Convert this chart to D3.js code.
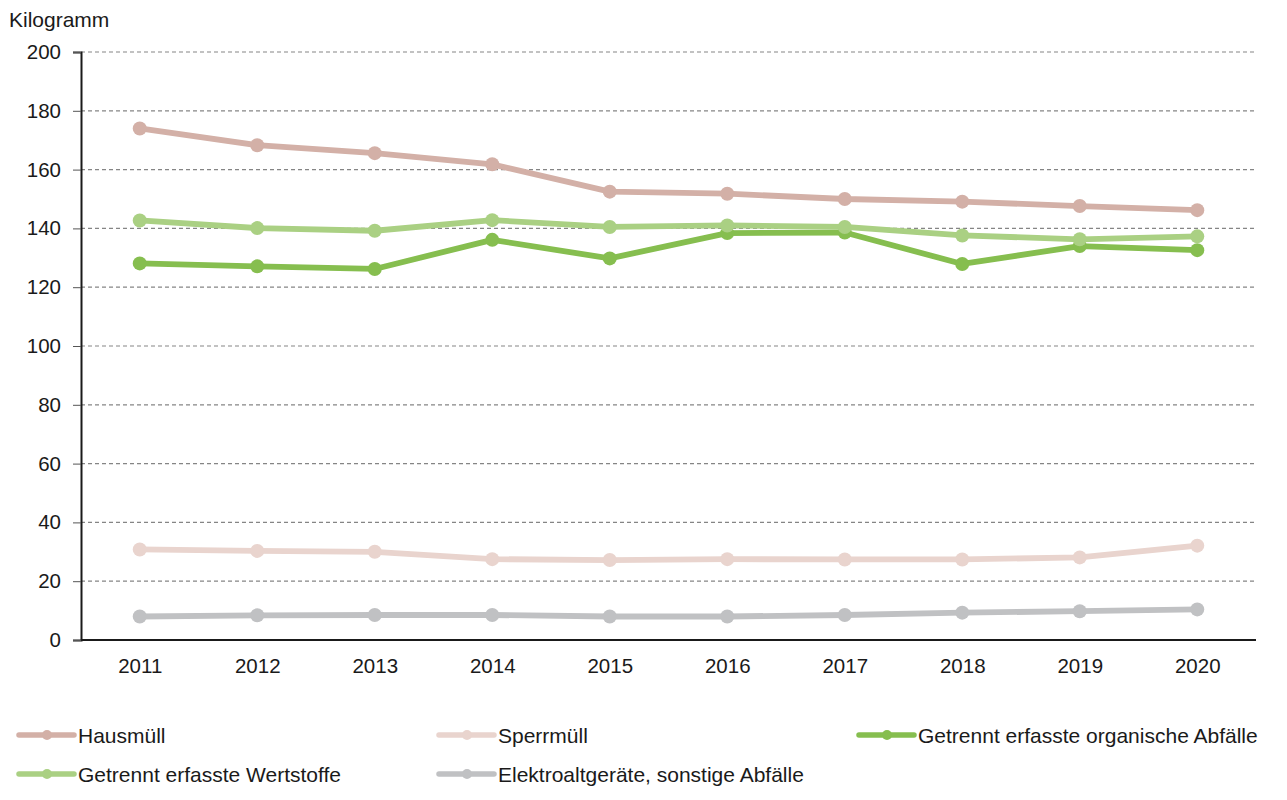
<!DOCTYPE html>
<html><head><meta charset="utf-8">
<script src="https://cdn.jsdelivr.net/npm/d3@7"></script>
<style>body{margin:0;background:#fff;font-family:"Liberation Sans",Arial,sans-serif;}</style>
</head><body><svg id="c" width="1287" height="800"></svg>
<script>
const years = ["2011","2012","2013","2014","2015","2016","2017","2018","2019","2020"];
const hausmuell = [174.0,168.3,165.6,161.8,152.5,151.8,150.0,149.1,147.6,146.2];
const sperrmuell = [30.8,30.3,30.0,27.5,27.2,27.5,27.4,27.4,28.1,32.1];
const organisch = [128.1,127.1,126.2,136.1,129.8,138.4,138.6,127.9,134.0,132.6];
const wertstoffe = [142.7,140.1,139.2,142.8,140.5,141.0,140.5,137.6,136.3,137.3];
const elektro = [8.0,8.4,8.5,8.5,8.0,8.0,8.5,9.3,9.8,10.4];
const yTicks = [0,20,40,60,80,100,120,140,160,180,200];
const seriesNames = ["Hausmüll","Sperrmüll","Getrennt erfasste organische Abfälle","Getrennt erfasste Wertstoffe","Elektroaltgeräte, sonstige Abfälle"];
const colors = ["#d3b0a7","#e9d4ce","#86be4f","#aad083","#c0c1c3"];
const seriesValues = [hausmuell,sperrmuell,organisch,wertstoffe,elektro];

(function(){
const svg = d3.select("#c");
const FF = "Liberation Sans, Arial, sans-serif";
const mL = 81, mR = 1256, mT = 52, mB = 640;
const x = d3.scalePoint().domain(years).range([mL, mR]).padding(0.5);
const y = d3.scaleLinear().domain([0,200]).range([mB, mT]);

// gridlines
svg.append("g").selectAll("line").data(yTicks.filter(d=>d>0)).join("line")
  .attr("x1", mL).attr("x2", mR)
  .attr("y1", d=>y(d)).attr("y2", d=>y(d))
  .attr("stroke","#858585").attr("stroke-width",1.2).attr("stroke-dasharray","4,3");

// y axis
const ya = svg.append("g").attr("transform",`translate(${mL},0)`)
  .call(d3.axisLeft(y).tickValues(yTicks).tickSize(8).tickPadding(12));
ya.select(".domain").attr("stroke","#1a1a1a").attr("stroke-width",2);
ya.selectAll(".tick line").attr("stroke","#555").attr("stroke-width",1);
ya.selectAll("text").attr("font-size",20.5).attr("fill","#1a1a1a").attr("font-family",FF);

// x axis
const xa = svg.append("g").attr("transform",`translate(0,${mB})`)
  .call(d3.axisBottom(x).tickSize(0).tickPadding(18));
xa.select(".domain").attr("stroke","#1a1a1a").attr("stroke-width",2).attr("d",`M${mL},0H${mR}`);
xa.selectAll("text").attr("font-size",20.5).attr("fill","#1a1a1a").attr("font-family",FF);

svg.append("text").attr("x",9).attr("y",27).attr("font-size",21).attr("font-family",FF).attr("fill","#1a1a1a").text("Kilogramm");

const line = d3.line().x((d,i)=>x(years[i])).y(d=>y(d));
seriesValues.forEach((vals,k)=>{
  const g = svg.append("g");
  g.append("path").datum(vals).attr("d",line).attr("fill","none")
    .attr("stroke",colors[k]).attr("stroke-width",5.8).attr("stroke-linejoin","round");
  g.selectAll("circle").data(vals).join("circle")
    .attr("cx",(d,i)=>x(years[i])).attr("cy",d=>y(d)).attr("r",7).attr("fill",colors[k]);
});

// legend
const legPos = [[19,735],[439,735],[859,735],[19,774],[439,774]];
seriesNames.forEach((n,k)=>{
  const [lx,ly] = legPos[k];
  const g = svg.append("g");
  g.append("line").attr("x1",lx).attr("x2",lx+55).attr("y1",ly).attr("y2",ly)
    .attr("stroke",colors[k]).attr("stroke-width",5.5).attr("stroke-linecap","round");
  g.append("circle").attr("cx",lx+28).attr("cy",ly).attr("r",5).attr("fill",colors[k]);
  g.append("text").attr("x",lx+59).attr("y",ly+7.5).attr("font-size",21).attr("font-family",FF).attr("fill","#1a1a1a").text(n);
});
})();
</script></body></html>
